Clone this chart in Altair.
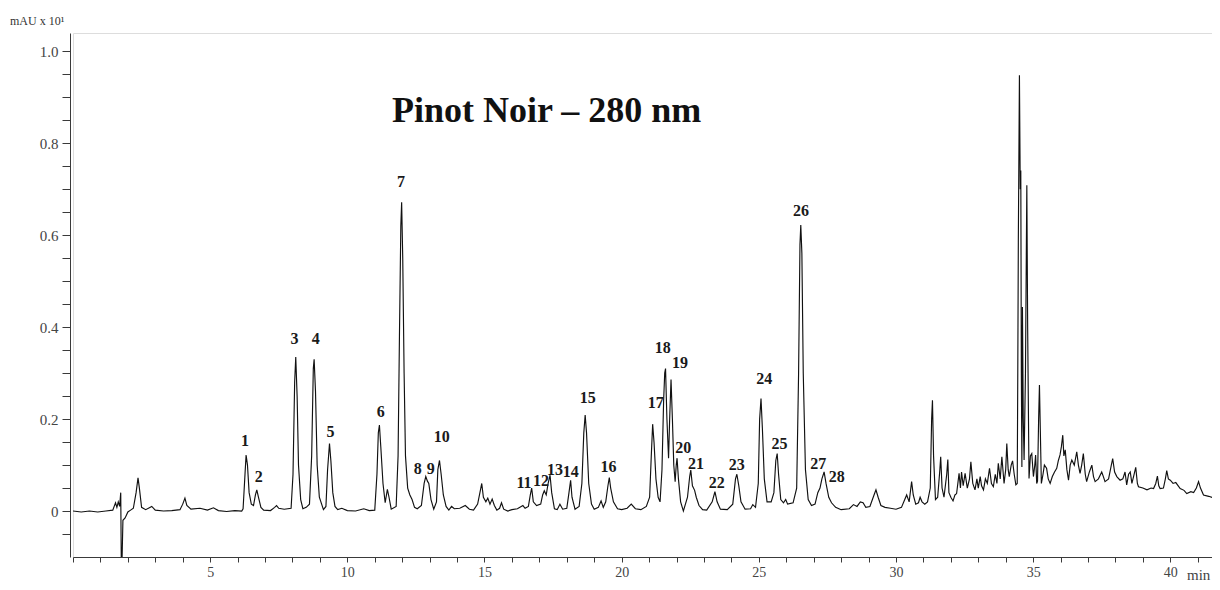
import altair as alt
import pandas as pd

# ---- chromatogram trace: (time [min], signal [mAU x 10^1]) ----
seg_start = [
    (0.0, 0.0), (0.3, -0.002), (0.6, 0.0), (0.9, -0.002), (1.2, 0.0), (1.45, 0.002),
    (1.55, 0.018), (1.6, 0.008), (1.65, 0.02), (1.7, 0.01), (1.74, 0.04), (1.76, -0.11),
    (1.79, -0.1), (1.82, -0.02), (1.9, -0.015), (2.0, -0.002), (2.1, 0.002), (2.2, 0.006),
    (2.3, 0.04), (2.37, 0.072), (2.42, 0.05), (2.5, 0.008), (2.65, 0.003), (2.87, 0.01),
    (3.0, 0.002), (3.3, 0.0), (3.6, 0.001), (3.9, 0.003), (4.0, 0.015), (4.08, 0.028),
    (4.15, 0.012), (4.3, 0.004), (4.63, 0.006), (4.9, 0.002), (5.12, 0.007), (5.3, 0.001),
    (5.6, -0.001), (5.9, 0.001), (6.15, 0.0),
]
seg_peaks_1_10 = [
    (6.2, 0.005), (6.27, 0.08), (6.31, 0.122), (6.36, 0.1), (6.42, 0.04), (6.5, 0.015),
    (6.58, 0.012), (6.65, 0.035), (6.7, 0.046), (6.76, 0.03), (6.85, 0.008), (6.95, 0.002),
    (7.2, 0.001), (7.35, 0.008), (7.42, 0.012), (7.5, 0.006), (7.7, 0.004), (7.95, 0.006),
    (8.02, 0.08), (8.08, 0.28), (8.12, 0.335), (8.17, 0.25), (8.22, 0.1), (8.3, 0.025),
    (8.38, 0.005), (8.5, 0.008), (8.62, 0.015),
    (8.7, 0.12), (8.76, 0.31), (8.79, 0.33), (8.84, 0.26), (8.9, 0.1), (8.98, 0.03),
    (9.13, 0.003), (9.22, 0.01),
    (9.28, 0.09), (9.35, 0.147), (9.4, 0.11), (9.47, 0.04), (9.55, 0.01), (9.65, 0.003),
    (9.8, 0.006), (10.0, 0.001), (10.3, 0.0), (10.6, 0.005), (10.8, 0.001), (11.0, 0.002),
    (11.08, 0.08), (11.13, 0.17), (11.17, 0.187), (11.22, 0.14), (11.3, 0.06), (11.38, 0.018),
    (11.46, 0.047), (11.52, 0.03), (11.6, 0.004), (11.78, 0.01),
    (11.85, 0.12), (11.9, 0.38), (11.95, 0.62), (11.98, 0.672), (12.02, 0.55), (12.07, 0.3),
    (12.12, 0.12), (12.2, 0.05), (12.28, 0.035), (12.36, 0.025), (12.45, 0.008), (12.55, 0.005),
    (12.7, 0.012),
    (12.8, 0.06), (12.86, 0.075), (12.92, 0.065), (12.97, 0.06), (13.05, 0.025), (13.15, 0.004),
    (13.25, 0.02),
    (13.3, 0.09), (13.36, 0.11), (13.42, 0.08), (13.5, 0.035), (13.6, 0.01), (13.7, 0.002),
    (13.8, 0.01), (13.9, 0.005),
]
seg_peaks_11_16 = [
    (14.1, 0.006), (14.3, 0.012), (14.45, 0.004), (14.6, 0.002), (14.75, 0.015), (14.85, 0.045),
    (14.9, 0.06), (14.96, 0.03), (15.05, 0.02), (15.12, 0.028), (15.2, 0.015), (15.28, 0.026),
    (15.36, 0.012), (15.45, 0.002), (15.55, 0.006), (15.62, 0.018), (15.7, 0.004), (15.85, 0.0),
    (16.0, 0.003), (16.2, 0.005), (16.4, 0.012), (16.48, 0.006), (16.6, 0.01),
    (16.67, 0.035), (16.72, 0.05), (16.78, 0.02), (16.9, 0.012), (17.05, 0.015),
    (17.12, 0.035), (17.18, 0.044), (17.25, 0.035), (17.32, 0.06), (17.39, 0.078), (17.45, 0.04),
    (17.55, 0.005), (17.65, 0.003), (17.75, 0.015), (17.85, 0.004), (18.0, 0.006),
    (18.08, 0.04), (18.14, 0.067), (18.19, 0.03), (18.3, 0.004), (18.45, 0.01),
    (18.55, 0.06), (18.62, 0.17), (18.67, 0.209), (18.72, 0.17), (18.8, 0.06), (18.9, 0.015),
    (19.0, 0.004), (19.15, 0.008), (19.25, 0.022), (19.33, 0.008), (19.42, 0.02),
    (19.5, 0.055), (19.55, 0.073), (19.6, 0.05), (19.7, 0.02), (19.85, 0.005), (20.0, 0.003),
    (20.2, 0.006), (20.35, 0.015), (20.5, 0.005), (20.7, 0.003), (20.9, 0.01), (21.02, 0.03),
]
seg_peaks_17_28 = [
    (21.08, 0.12), (21.13, 0.189), (21.18, 0.15), (21.25, 0.07), (21.33, 0.03), (21.4, 0.02),
    (21.47, 0.09), (21.53, 0.24), (21.57, 0.3), (21.6, 0.31), (21.65, 0.2), (21.71, 0.115),
    (21.75, 0.2), (21.8, 0.286), (21.85, 0.2), (21.9, 0.1), (21.95, 0.064),
    (21.99, 0.1), (22.02, 0.115), (22.07, 0.07), (22.15, 0.02), (22.25, 0.0),
    (22.4, 0.03), (22.48, 0.075), (22.52, 0.089), (22.58, 0.055), (22.66, 0.045), (22.72, 0.03),
    (22.82, 0.012), (22.95, 0.003), (23.1, 0.002),
    (23.3, 0.02), (23.4, 0.042), (23.48, 0.02), (23.6, 0.004), (23.85, 0.003), (24.05, 0.015),
    (24.15, 0.07), (24.2, 0.08), (24.27, 0.055), (24.35, 0.02), (24.5, 0.004), (24.7, 0.005),
    (24.78, 0.014), (24.88, 0.008), (24.98, 0.06),
    (25.03, 0.2), (25.08, 0.245), (25.13, 0.18), (25.2, 0.07), (25.3, 0.02), (25.45, 0.02),
    (25.55, 0.04),
    (25.62, 0.11), (25.67, 0.125), (25.72, 0.08), (25.8, 0.025), (25.9, 0.018), (25.98, 0.025),
    (26.05, 0.015), (26.25, 0.018), (26.38, 0.05),
    (26.45, 0.3), (26.5, 0.58), (26.53, 0.622), (26.57, 0.56), (26.62, 0.3), (26.7, 0.09),
    (26.8, 0.025), (26.92, 0.012), (27.05, 0.015), (27.15, 0.04), (27.23, 0.05),
    (27.3, 0.07), (27.38, 0.085), (27.45, 0.06), (27.55, 0.03), (27.65, 0.018), (27.8, 0.008),
    (28.0, 0.003),
]
seg_late = [
    (28.3, 0.005), (28.45, 0.014), (28.58, 0.01), (28.7, 0.02), (28.8, 0.018), (28.9, 0.008),
    (29.05, 0.01), (29.2, 0.035), (29.27, 0.046), (29.35, 0.03), (29.45, 0.012), (29.6, 0.008),
    (29.8, 0.006), (30.0, 0.004), (30.2, 0.008), (30.32, 0.025), (30.39, 0.035), (30.48, 0.02),
    (30.57, 0.064), (30.63, 0.035), (30.72, 0.015), (30.82, 0.018), (30.88, 0.03), (30.95, 0.02),
    (31.05, 0.015), (31.15, 0.02), (31.25, 0.05), (31.3, 0.2), (31.33, 0.241), (31.37, 0.12),
    (31.44, 0.025), (31.52, 0.03), (31.6, 0.09), (31.63, 0.118), (31.68, 0.05), (31.75, 0.03),
    (31.85, 0.08), (31.89, 0.112), (31.93, 0.04), (32.0, 0.03), (32.08, 0.022), (32.15, 0.035),
    (32.21, 0.038), (32.3, 0.082), (32.35, 0.05), (32.39, 0.085), (32.45, 0.055), (32.52, 0.082),
    (32.6, 0.05), (32.68, 0.07), (32.73, 0.107), (32.8, 0.06), (32.88, 0.046), (32.95, 0.07),
    (33.0, 0.05), (33.07, 0.075), (33.12, 0.055), (33.19, 0.046), (33.26, 0.07), (33.33, 0.06),
    (33.41, 0.093), (33.48, 0.06), (33.55, 0.053), (33.62, 0.08), (33.68, 0.06), (33.73, 0.104),
    (33.8, 0.07), (33.86, 0.118), (33.94, 0.06), (34.0, 0.09), (34.04, 0.147), (34.09, 0.09),
    (34.13, 0.075), (34.2, 0.1), (34.25, 0.109), (34.31, 0.08), (34.37, 0.057),
]
seg_cluster = [
    (34.42, 0.06), (34.44, 0.3), (34.46, 0.585), (34.5, 0.948), (34.53, 0.7), (34.55, 0.741),
    (34.57, 0.3), (34.59, 0.096), (34.61, 0.444), (34.64, 0.2), (34.67, 0.111), (34.72, 0.3),
    (34.77, 0.709), (34.8, 0.4), (34.85, 0.071), (34.9, 0.12), (34.95, 0.125), (35.01, 0.075),
    (35.06, 0.1), (35.09, 0.122), (35.13, 0.06), (35.16, 0.065), (35.2, 0.2), (35.23, 0.274),
    (35.27, 0.15), (35.3, 0.06),
]
seg_tail = [
    (35.36, 0.08), (35.41, 0.1), (35.49, 0.093), (35.55, 0.07), (35.62, 0.06), (35.7, 0.075),
    (35.78, 0.085), (35.86, 0.093), (35.92, 0.11), (35.98, 0.122), (36.03, 0.14), (36.08, 0.165),
    (36.12, 0.12), (36.17, 0.133), (36.23, 0.09), (36.29, 0.067), (36.35, 0.1), (36.41, 0.111),
    (36.5, 0.1), (36.59, 0.129), (36.65, 0.1), (36.71, 0.082), (36.77, 0.1), (36.83, 0.125),
    (36.9, 0.08), (36.95, 0.064), (37.05, 0.085), (37.14, 0.1), (37.2, 0.075), (37.26, 0.064),
    (37.38, 0.07), (37.5, 0.085), (37.56, 0.075), (37.62, 0.064), (37.75, 0.07), (37.85, 0.1),
    (37.9, 0.114), (37.97, 0.085), (38.05, 0.075), (38.17, 0.067), (38.27, 0.07), (38.35, 0.085),
    (38.41, 0.057), (38.48, 0.08), (38.54, 0.085), (38.6, 0.06), (38.68, 0.08), (38.74, 0.095),
    (38.8, 0.06), (38.84, 0.053), (39.0, 0.05), (39.15, 0.046), (39.3, 0.05), (39.39, 0.049),
    (39.47, 0.06), (39.53, 0.076), (39.58, 0.055), (39.63, 0.049), (39.75, 0.05), (39.82, 0.07),
    (39.87, 0.088), (39.93, 0.07), (40.0, 0.067), (40.1, 0.06), (40.2, 0.062), (40.36, 0.049),
    (40.5, 0.045), (40.6, 0.038), (40.75, 0.042), (40.85, 0.04), (40.95, 0.05), (41.03, 0.064),
    (41.1, 0.05), (41.21, 0.035), (41.4, 0.032), (41.6, 0.028), (41.8, 0.024),
]

# ---- peak labels: number, and where it sits (time, signal) ----
peak_numbers = [str(i) for i in range(1, 29)]
label_time = [6.27, 6.77, 8.07, 8.85, 9.39, 11.22, 11.96, 12.57, 13.04, 13.44,
              16.44, 17.06, 17.57, 18.14, 18.76, 19.52, 21.24, 21.50, 22.13, 22.25,
              22.71, 23.47, 24.20, 25.20, 25.75, 26.54, 27.17, 27.84]
label_mau = [0.153, 0.073, 0.374, 0.374, 0.172, 0.216, 0.716, 0.091, 0.091, 0.160,
             0.062, 0.066, 0.089, 0.085, 0.247, 0.096, 0.234, 0.354, 0.321, 0.138,
             0.102, 0.060, 0.100, 0.288, 0.145, 0.652, 0.102, 0.075]

x_ticks = list(range(0, 42))
y_ticks = [-0.05, 0.0, 0.05, 0.1, 0.15, 0.2, 0.25, 0.3, 0.35, 0.4, 0.45, 0.5,
           0.55, 0.6, 0.65, 0.7, 0.75, 0.8, 0.85, 0.9, 0.95, 1.0]

title_text = "Pinot Noir – 280 nm"
y_unit_text = "mAU x 10¹"
x_unit_text = "min"

points = seg_start + seg_peaks_1_10 + seg_peaks_11_16 + seg_peaks_17_28 + seg_late + seg_cluster + seg_tail
trace = pd.DataFrame(points, columns=["t", "v"])
labels = pd.DataFrame({"n": peak_numbers, "t": label_time, "v": label_mau})

W, H = 1139, 524
SERIF = "Liberation Serif"
AX = "#3a3a3a"

xscale = alt.Scale(domain=[0, 41.52], nice=False, zero=False)
yscale = alt.Scale(domain=[-0.1, 1.04], nice=False, zero=False)

x_axis = alt.Axis(
    values=x_ticks, title=None, grid=False, tickSize=5, labelPadding=3,
    labelOverlap=False, labelFlush=False,
    labelExpr="datum.value > 0 && datum.value % 5 == 0 ? datum.label : ''",
    labelFont=SERIF, labelFontSize=14, labelColor="#444",
    domainColor=AX, tickColor=AX, domainWidth=1, tickWidth=1,
)
y_axis = alt.Axis(
    values=y_ticks, title=None, grid=False, tickSize=8, labelPadding=4, offset=3,
    labelOverlap=False, labelFlush=False,
    labelExpr="datum.value == 0 ? '0' : (abs(datum.value * 5 - round(datum.value * 5)) < 0.001 ? format(datum.value, '.1f') : '')",
    labelFont=SERIF, labelFontSize=15, labelColor="#444",
    domainColor=AX, tickColor=AX, domainWidth=1, tickWidth=1,
)

line = alt.Chart(trace).mark_line(color="#111111", strokeWidth=1.15, clip=True).encode(
    x=alt.X("t:Q", scale=xscale, axis=x_axis),
    y=alt.Y("v:Q", scale=yscale, axis=y_axis),
)

peak_text = alt.Chart(labels).mark_text(
    font=SERIF, fontSize=16, fontWeight="bold", color="#1a1a1a",
    align="center", baseline="middle",
).encode(
    x=alt.X("t:Q", scale=xscale, axis=x_axis),
    y=alt.Y("v:Q", scale=yscale, axis=y_axis),
    text="n:N",
)

title = alt.Chart(pd.DataFrame({"s": [title_text]})).mark_text(
    font=SERIF, fontSize=36, fontWeight="bold", color="#111",
    align="left", baseline="alphabetic",
).encode(x=alt.value(319), y=alt.value(89), text="s:N")

y_unit = alt.Chart(pd.DataFrame({"s": [y_unit_text]})).mark_text(
    font=SERIF, fontSize=12, color="#333", align="left", baseline="middle",
).encode(x=alt.value(-63), y=alt.value(-12), text="s:N")

x_unit = alt.Chart(pd.DataFrame({"s": [x_unit_text]})).mark_text(
    font=SERIF, fontSize=15, color="#444", align="left", baseline="alphabetic",
).encode(x=alt.value(1114), y=alt.value(547), text="s:N")

chart = alt.layer(line, peak_text, title, y_unit, x_unit).properties(
    width=W, height=H,
    padding={"left": 65, "top": 25, "right": 0, "bottom": 25},
    autosize=alt.AutoSizeParams(type="none"),
).configure_view(stroke=None).configure(background="white")

chart.save("out.html", embed_options={"renderer": "svg", "actions": False})
